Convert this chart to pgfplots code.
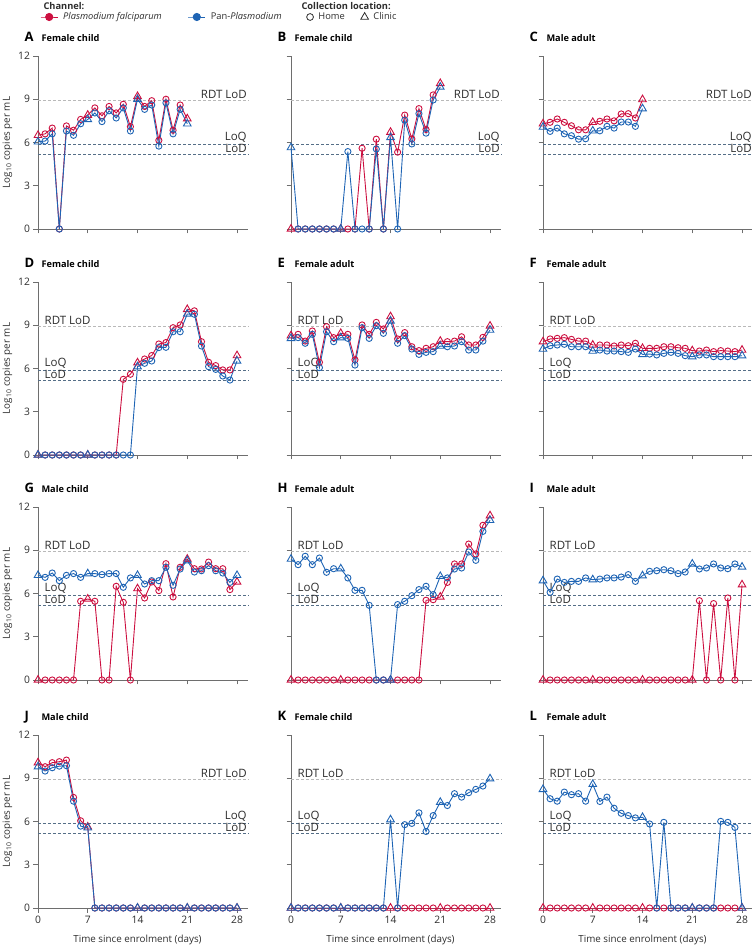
\documentclass[border=0pt]{standalone}
\usepackage{fontspec}
\setmainfont{Open Sans}
\usepackage{pgfplots}
\usepackage{pgfplotstable}
\pgfplotsset{compat=1.18}

\definecolor{pfred}{RGB}{204,16,64}
\definecolor{panblue}{RGB}{30,100,180}
\definecolor{rdtgrey}{RGB}{185,185,185}
\definecolor{limblue}{RGB}{85,110,135}
\definecolor{axgrey}{RGB}{110,110,110}
\definecolor{txt}{RGB}{45,45,45}

\newcommand\ticksize{\fontsize{10.3}{12}\selectfont}
\newcommand\labsize{\fontsize{9.8}{11}\selectfont}
\newcommand\limsize{\fontsize{11.5}{13}\selectfont}
\newcommand\legsize{\fontsize{9.3}{11}\selectfont}

% day, P falciparum channel, pan-Plasmodium channel (log10 copies/mL)
\pgfplotstableread{
day pf pan
0 6.5 6.05
1 6.6 6.1
2 7.0 6.6
3 0 0
4 7.15 6.8
5 6.85 6.5
6 7.6 7.3
7 7.9 7.6
8 8.4 8.05
9 7.85 7.45
10 8.5 8.2
11 8.05 7.7
12 8.65 8.4
13 7.1 6.8
14 9.2 9.0
15 8.5 8.3
16 8.9 8.6
17 6.15 5.75
18 9.0 8.75
19 6.85 6.6
20 8.6 8.3
21 7.65 7.3
}\dataA
\pgfplotstableread{
day pf pan
0 0 5.65
1 0 0
2 0 0
3 0 0
4 0 0
5 0 0
6 0 0
7 0 0
8 0 5.37
9 0 0
10 5.6 0
11 0 0
12 6.23 5.55
13 0 0
14 6.72 6.35
15 5.33 0
16 7.9 7.55
17 6.25 5.9
18 8.35 8.0
19 6.9 6.65
20 9.3 8.95
21 10.1 9.85
}\dataB
\pgfplotstableread{
day pf pan
0 7.3 7.07
1 7.4 6.77
2 7.63 7.0
3 7.4 6.6
4 7.16 6.47
5 6.88 6.23
6 6.88 6.26
7 7.4 6.81
8 7.47 6.81
9 7.63 7.12
10 7.5 7.0
11 7.98 7.42
12 8.0 7.42
13 7.7 7.12
14 8.98 8.35
}\dataC
\pgfplotstableread{
day pf pan
0 0 0
1 0 0
2 0 0
3 0 0
4 0 0
5 0 0
6 0 0
7 0 0
8 0 0
9 0 0
10 0 0
11 0 0
12 5.25 0
13 5.6 0
14 6.4 6.13
15 6.66 6.36
16 6.9 6.52
17 7.7 7.45
18 7.8 7.47
19 8.83 8.55
20 9.02 8.55
21 10.1 9.78
22 10.0 9.76
23 7.86 7.56
24 6.43 6.13
25 6.2 5.94
26 5.9 5.48
27 5.9 5.2
28 6.9 6.52
}\dataD
\pgfplotstableread{
day pf pan
0 8.28 8.09
1 8.37 8.14
2 7.9 7.75
3 8.6 8.37
4 6.43 6.06
5 8.9 8.55
6 8.14 7.86
7 8.44 8.14
8 8.37 8.09
9 6.6 6.24
10 9.02 8.83
11 8.37 8.09
12 9.2 8.97
13 8.74 8.44
14 9.6 9.3
15 8.05 7.75
16 8.49 8.28
17 7.51 7.35
18 7.24 6.98
19 7.4 7.12
20 7.51 7.17
21 7.9 7.56
22 7.86 7.51
23 7.9 7.56
24 8.2 7.86
25 7.63 7.28
26 7.63 7.28
27 8.16 7.9
28 8.95 8.67
}\dataE
\pgfplotstableread{
day pf pan
0 7.86 7.35
1 8.05 7.58
2 8.09 7.63
3 8.14 7.68
4 8.02 7.51
5 7.9 7.51
6 7.9 7.51
7 7.63 7.21
8 7.63 7.28
9 7.63 7.21
10 7.56 7.21
11 7.63 7.17
12 7.58 7.12
13 7.75 7.35
14 7.4 6.98
15 7.4 7.0
16 7.4 6.94
17 7.51 7.05
18 7.51 7.12
19 7.44 7.05
20 7.4 6.89
21 7.24 6.82
22 7.21 6.94
23 7.28 6.94
24 7.17 6.82
25 7.24 6.82
26 7.21 6.82
27 7.17 6.82
28 7.28 6.89
}\dataF
\pgfplotstableread{
day pf pan
0 0 7.26
1 0 7.12
2 0 7.42
3 0 6.89
4 0 7.26
5 0 7.38
6 5.46 7.12
7 5.62 7.38
8 5.46 7.38
9 0 7.31
10 0 7.38
11 6.5 7.38
12 5.39 6.43
13 0 7.08
14 6.34 7.26
15 5.69 6.66
16 6.8 6.89
17 6.2 6.89
18 8.07 7.82
19 5.76 6.57
20 7.82 7.7
21 8.39 8.28
22 7.72 7.49
23 7.7 7.58
24 8.18 7.93
25 7.72 7.58
26 7.72 7.42
27 6.27 6.77
28 6.8 7.26
}\dataG
\pgfplotstableread{
day pf pan
0 0 8.39
1 0 8.0
2 0 8.58
3 0 8.0
4 0 8.46
5 0 7.47
6 0 7.72
7 0 7.72
8 0 7.08
9 0 6.22
10 0 6.22
11 0 5.18
12 0 0
13 0 0
14 0 0
15 0 5.23
16 0 5.46
17 0 5.85
18 0 6.27
19 5.53 6.5
20 5.57 5.92
21 5.76 7.19
22 6.77 7.08
23 8.05 7.7
24 8.05 7.77
25 9.43 8.88
26 8.74 8.3
27 10.73 10.31
28 11.4 11.08
}\dataH
\pgfplotstableread{
day pf pan
0 0 6.89
1 0 6.08
2 0 7.0
3 0 6.77
4 0 6.84
5 0 6.84
6 0 7.08
7 0 6.96
8 0 7.0
9 0 7.08
10 0 7.08
11 0 7.14
12 0 7.31
13 0 6.84
14 0 7.24
15 0 7.54
16 0 7.58
17 0 7.65
18 0 7.58
19 0 7.38
20 0 7.49
21 0 8.05
22 5.5 7.7
23 0 7.77
24 5.3 8.05
25 0 7.77
26 5.69 7.72
27 0 8.05
28 6.61 7.84
}\dataI
\pgfplotstableread{
day pf pan
0 10.08 9.8
1 9.8 9.5
2 10.08 9.73
3 10.15 9.84
4 10.26 9.87
5 7.67 7.41
6 6.05 5.68
7 5.63 5.56
8 0 0
9 0 0
10 0 0
11 0 0
12 0 0
13 0 0
14 0 0
15 0 0
16 0 0
17 0 0
18 0 0
19 0 0
20 0 0
21 0 0
22 0 0
23 0 0
24 0 0
25 0 0
26 0 0
27 0 0
28 0 0
}\dataJ
\pgfplotstableread{
day pf pan
0 0 0
1 0 0
2 0 0
3 0 0
4 0 0
5 0 0
6 0 0
7 0 0
8 0 0
9 0 0
10 0 0
11 0 0
12 0 0
13 0 0
14 0 6.13
15 0 0
16 0 5.78
17 0 5.87
18 0 6.6
19 0 5.31
20 0 6.41
21 0 7.34
22 0 7.11
23 0 7.93
24 0 7.69
25 0 8.0
26 0 8.23
27 0 8.46
28 0 8.97
}\dataK
\pgfplotstableread{
day pf pan
0 0 8.23
1 0 7.58
2 0 7.41
3 0 8.04
4 0 7.86
5 0 7.93
6 0 7.41
7 0 8.58
8 0 7.39
9 0 7.69
10 0 6.92
11 0 6.57
12 0 6.41
13 0 6.25
14 0 6.29
15 0 5.83
16 0 0
17 0 5.94
18 0 0
19 0 0
20 0 0
21 0 0
22 0 0
23 0 0
24 0 0
25 0 6.01
26 0 5.94
27 0 5.59
28 0 0
}\dataL

\pgfplotsset{
  panel/.style={
    scale only axis, width=210.4pt, height=173pt,
    xmin=0, xmax=29.6, ymin=0, ymax=12,
    axis x line*=bottom, axis y line*=left,
    axis line style={axgrey, line width=0.9pt},
    xtick={0,7,14,21,28}, ytick={0,3,6,9,12},
    tick align=outside, major tick length=4.5pt,
    tick style={axgrey, line width=0.9pt},
    tick label style={font=\ticksize, text=txt},
    /pgf/number format/assume math mode=true,
    clip=false, anchor=south west,
  },
  nox/.style={xticklabels={}},
  noy/.style={yticklabels={}},
  homemarks/.style={mark=o, mark size=3.1pt,
    mark indices={2,3,4,5,6,7,9,10,11,12,13,14,16,17,18,19,20,21,23,24,25,26,27,28}},
  clinmarks/.style={mark=triangle, mark size=4.4pt, mark indices={1,8,15,22,29}},
  limline/.style={line width=0.8pt, dash pattern=on 3pt off 2pt, forget plot},
}
\tikzset{
  limlab/.style={font=\limsize, text=txt, inner sep=1.5pt},
  ptitle/.style={font=\bfseries\fontsize{9.2}{11}\selectfont, text=black, anchor=base west, xshift=0pt, yshift=14pt},
  pletter/.style={font=\bfseries\fontsize{13}{15}\selectfont, text=black, anchor=base west, xshift=-17pt, yshift=14pt},
  lhead/.style={font=\bfseries\legsize, text=txt, anchor=base west, yshift=46.5pt},
}

\newcommand\series[3]{%
  \addplot[#3, line width=0.9pt, homemarks, mark options={solid, line width=0.9pt}, forget plot]
    table[x=day, y=#2]{#1};
  \addplot[#3, only marks, clinmarks, mark options={solid, line width=0.9pt}, forget plot]
    table[x=day, y=#2]{#1};
}
\newcommand\limitlines{%
  \addplot[rdtgrey, limline] coordinates {(0,8.9) (29.6,8.9)};
  \addplot[limblue, limline] coordinates {(0,5.86) (29.6,5.86)};
  \addplot[limblue, limline] coordinates {(0,5.17) (29.6,5.17)};
}
\newcommand\limlabelsR{%
  \node[limlab, anchor=south east] at (axis cs:29.6,8.9) {RDT LoD};
  \node[limlab, anchor=south east] at (axis cs:29.6,5.86) {LoQ};
  \node[limlab, anchor=south east] at (axis cs:29.6,5.17) {LoD};
}
\newcommand\limlabelsL{%
  \node[limlab, anchor=south west] at (axis cs:0.7,8.9) {RDT LoD};
  \node[limlab, anchor=south west] at (axis cs:0.7,5.86) {LoQ};
  \node[limlab, anchor=south west] at (axis cs:0.7,5.17) {LoD};
}
% #1 letter, #2 title, #3 x, #4 y, #5 table, #6 1 = labels right, #7 axis options, #8 extra
\newcommand\panel[8]{%
  \begin{axis}[panel, at={(#3,#4)}, #7]
    #8
    \limitlines
    \ifnum#6=1 \limlabelsR\else\limlabelsL\fi
    \series{#5}{pf}{pfred}
    \series{#5}{pan}{panblue}
    \node[ptitle] at (rel axis cs:0,1) {#2};
    \node[pletter] at (rel axis cs:0,1) {#1};
  \end{axis}%
}

\begin{document}
\begin{tikzpicture}
\path[use as bounding box] (0pt,0pt) rectangle (752pt,946pt);

\panel{A}{Female child}{38pt}{717pt}{\dataA}{1}{nox,
  legend columns=4, legend cell align=left,
  legend style={draw=none, fill=none, at={(0.0095,1.2254)}, anchor=west,
    font=\legsize, text=txt, inner sep=0pt, column sep=3pt}}{%
  \addlegendimage{pfred, line width=0.9pt, mark=*, mark size=3.6pt}
  \addlegendentry{\textit{Plasmodium falciparum}\rule{21pt}{0pt}}
  \addlegendimage{panblue, line width=0.9pt, mark=*, mark size=3.6pt}
  \addlegendentry{Pan-\textit{Plasmodium}\rule{20pt}{0pt}}
  \addlegendimage{txt, line width=0.8pt, legend image code/.code={%
    \draw[txt, line width=0.8pt, mark=o, mark size=3.4pt] plot coordinates {(3.5pt,0pt)};}}
  \addlegendentry{Home\rule{11pt}{0pt}}
  \addlegendimage{txt, line width=0.8pt, legend image code/.code={%
    \draw[txt, line width=0.8pt, mark=triangle, mark size=4.4pt] plot coordinates {(3.5pt,0pt)};}}
  \addlegendentry{Clinic}
  \node[lhead, xshift=2pt] at (rel axis cs:0,1) {Channel:};
  \node[lhead, xshift=260pt] at (rel axis cs:0,1) {Collection location:};
}
\panel{B}{Female child}{291pt}{717pt}{\dataB}{1}{nox, noy}{}
\panel{C}{Male adult}{543pt}{717pt}{\dataC}{1}{nox, noy}{}
\panel{D}{Female child}{38pt}{491pt}{\dataD}{0}{nox}{}
\panel{E}{Female adult}{291pt}{491pt}{\dataE}{0}{nox, noy}{}
\panel{F}{Female adult}{543pt}{491pt}{\dataF}{0}{nox, noy}{}
\panel{G}{Male child}{38pt}{266pt}{\dataG}{0}{nox}{}
\panel{H}{Female adult}{291pt}{266pt}{\dataH}{0}{nox, noy}{}
\panel{I}{Male adult}{543pt}{266pt}{\dataI}{0}{nox, noy}{}
\panel{J}{Male child}{38pt}{38pt}{\dataJ}{1}{}{}
\panel{K}{Female child}{291pt}{38pt}{\dataK}{0}{noy}{}
\panel{L}{Female adult}{543pt}{38pt}{\dataL}{0}{noy}{}

\foreach \yy in {803.5,577.5,352.5,124.5}
  \node[rotate=90, font=\labsize, text=txt] at (7.5pt,\yy pt) {Log\textsubscript{10} copies per mL};
\foreach \xx in {137.5,390.5,642.5}
  \node[font=\labsize, text=txt] at (\xx pt,6.5pt) {Time since enrolment (days)};
\end{tikzpicture}
\end{document}
